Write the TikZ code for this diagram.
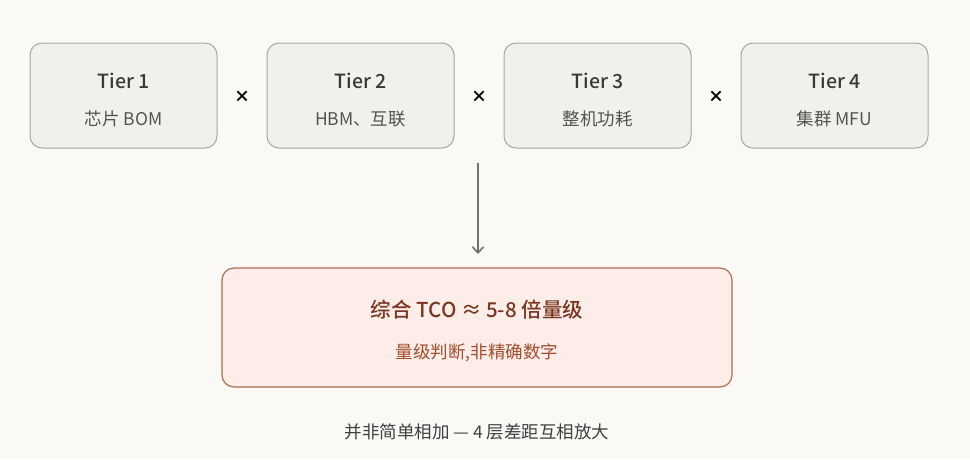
\documentclass[tikz,border=0pt]{standalone}
\usepackage{fontspec}
\setmainfont{Noto Sans CJK SC}
\newfontfamily\cjkbold{Noto Sans CJK SC}[UprightFont={* Medium}]
\usetikzlibrary{arrows.meta}
\definecolor{bgc}{HTML}{FAF9F6}
\definecolor{tierfill}{HTML}{F1F0EB}
\definecolor{tierdraw}{HTML}{A9A7A1}
\definecolor{tiertext}{HTML}{3A3936}
\definecolor{tiersub}{HTML}{55534F}
\definecolor{resfill}{HTML}{FCEDE8}
\definecolor{resdraw}{HTML}{B06E55}
\definecolor{restitle}{HTML}{7A3520}
\definecolor{ressub}{HTML}{A24E2E}
\definecolor{arrowc}{HTML}{707070}
\definecolor{captc}{HTML}{404040}
\tikzset{
  tierbox/.style={draw=tierdraw, fill=tierfill, line width=1pt, rounded corners=12pt,
    minimum width=187pt, minimum height=105pt, inner sep=0pt},
  tiertitle/.style={font=\cjkbold\fontsize{19.5}{22}\selectfont, text=tiertext},
  tiersubt/.style={font=\fontsize{17.5}{20}\selectfont, text=tiersub},
  timesmark/.style={font=\fontsize{16}{19}\selectfont, text=black},
  resbox/.style={draw=resdraw, fill=resfill, line width=1.2pt, rounded corners=12pt,
    minimum width=510pt, minimum height=119pt, inner sep=0pt},
}
\begin{document}
\begin{tikzpicture}[x=1pt,y=-1pt]
\fill[bgc] (0,0) rectangle (970,459);
\useasboundingbox (0,0) rectangle (970,459);
\foreach \i/\x/\s in {1/123.5/芯片 BOM, 2/360.5/HBM、互联, 3/597.5/整机功耗, 4/834.5/集群 MFU}{
  \node[tierbox] (t\i) at (\x,95.5) {};
  \node[tiertitle] (tt\i) at (\x,81) {Tier \i};
  \node[tiersubt] (ts\i) at (\x,119) {\s};
}
\foreach \x/\n in {242/1,479/2,716/3}{
  \node[timesmark] (m\n) at (\x,97) {\textbf{×}};
}
\node[resbox] (res) at (477,327.5) {};
\node[font=\cjkbold\fontsize{20.5}{24}\selectfont, text=restitle] (rt) at (477,310) {综合 TCO ≈ 5-8 倍量级};
\node[font=\fontsize{17.5}{20}\selectfont, text=ressub] (rs) at (477,353) {量级判断,非精确数字};
\coordinate (as) at (478,163);
\draw[arrowc, line width=1.6pt, -{Straight Barb[length=6pt,width=11pt,line width=1.6pt]}] (as) -- (478,254);
\node[font=\fontsize{17.5}{20}\selectfont, text=captc] (cap) at (477,432) {并非简单相加 — 4 层差距互相放大};
\end{tikzpicture}
\end{document}
